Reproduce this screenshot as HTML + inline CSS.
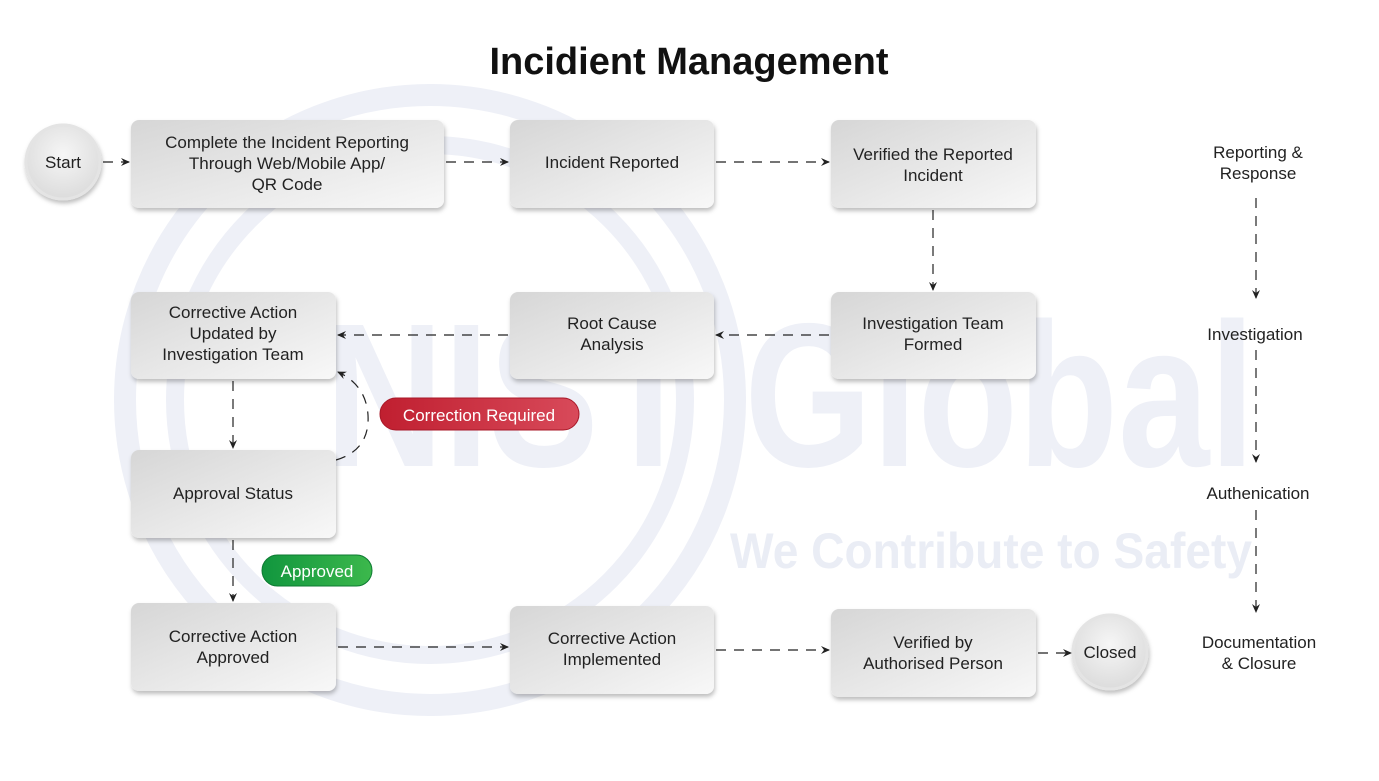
<!DOCTYPE html>
<html><head><meta charset="utf-8"><style>
body{margin:0;width:1379px;height:776px;background:#fff;overflow:hidden;font-family:"Liberation Sans",sans-serif}
</style></head><body>
<svg width="1379" height="776" viewBox="0 0 1379 776" xmlns="http://www.w3.org/2000/svg">
<defs>
<linearGradient id="g" x1="0" y1="0" x2="1" y2="1"><stop offset="0" stop-color="#d6d6d6"/><stop offset="1" stop-color="#f8f8f8"/></linearGradient>
<radialGradient id="cg" cx="0.5" cy="0.4" r="0.6"><stop offset="0" stop-color="#f6f6f6"/><stop offset="1" stop-color="#dcdcdc"/></radialGradient>
<linearGradient id="red" x1="0" x2="1"><stop offset="0" stop-color="#c01f30"/><stop offset="1" stop-color="#d84a5a"/></linearGradient>
<linearGradient id="grn" x1="0" x2="1"><stop offset="0" stop-color="#11963e"/><stop offset="1" stop-color="#3cb84c"/></linearGradient>
<filter id="sh" x="-10%" y="-10%" width="130%" height="140%"><feDropShadow dx="1" dy="3" stdDeviation="2" flood-color="#000" flood-opacity="0.25"/></filter>
<marker id="a" markerWidth="10" markerHeight="10" refX="8" refY="5" orient="auto" markerUnits="userSpaceOnUse"><path d="M0,1 L9,5 L0,9 L3,5z" fill="#222"/></marker>
</defs>
<g fill="none" stroke="#eef0f7">
<circle cx="430" cy="400" r="305" stroke-width="22"/>
<circle cx="430" cy="400" r="255" stroke-width="18"/>
</g>
<text x="325" y="466" font-size="205" font-weight="bold" fill="#eef0f7" textLength="930" lengthAdjust="spacingAndGlyphs">NIST Global</text>
<text x="730" y="568" font-size="50" font-weight="bold" fill="#eaedf5" textLength="522" lengthAdjust="spacingAndGlyphs">We Contribute to Safety</text>
<text x="689" y="74" font-size="38" font-weight="bold" text-anchor="middle" fill="#111">Incidient Management</text>
<g stroke="#222" stroke-width="1.2" stroke-dasharray="10 8" fill="none" marker-end="url(#a)">
<line x1="103" y1="162" x2="129" y2="162"/>
<line x1="446" y1="162" x2="508" y2="162"/>
<line x1="716" y1="162" x2="829" y2="162"/>
<line x1="933" y1="210" x2="933" y2="290"/>
<line x1="829" y1="335" x2="716" y2="335"/>
<line x1="508" y1="335" x2="338" y2="335"/>
<line x1="233" y1="381" x2="233" y2="448"/>
<line x1="233" y1="540" x2="233" y2="601"/>
<line x1="338" y1="647" x2="508" y2="647"/>
<line x1="716" y1="650" x2="829" y2="650"/>
<line x1="1038" y1="653" x2="1071" y2="653"/>
<path d="M336,460 Q370,450 368,415 Q366,385 338,372"/>
<line x1="1256" y1="198" x2="1256" y2="298"/>
<line x1="1256" y1="350" x2="1256" y2="462"/>
<line x1="1256" y1="510" x2="1256" y2="612"/>
</g>
<g filter="url(#sh)">
<circle cx="63" cy="162" r="37" fill="url(#cg)" stroke="#e4e4e4" stroke-width="3"/>
<circle cx="1110" cy="652" r="37" fill="url(#cg)" stroke="#e4e4e4" stroke-width="3"/>
<rect x="131" y="120" width="313" height="88" rx="8" fill="url(#g)"/>
<rect x="510" y="120" width="204" height="88" rx="8" fill="url(#g)"/>
<rect x="831" y="120" width="205" height="88" rx="8" fill="url(#g)"/>
<rect x="131" y="292" width="205" height="87" rx="8" fill="url(#g)"/>
<rect x="510" y="292" width="204" height="87" rx="8" fill="url(#g)"/>
<rect x="831" y="292" width="205" height="87" rx="8" fill="url(#g)"/>
<rect x="131" y="450" width="205" height="88" rx="8" fill="url(#g)"/>
<rect x="131" y="603" width="205" height="88" rx="8" fill="url(#g)"/>
<rect x="510" y="606" width="204" height="88" rx="8" fill="url(#g)"/>
<rect x="831" y="609" width="205" height="88" rx="8" fill="url(#g)"/>
</g>
<rect x="380" y="398" width="199" height="32" rx="16" fill="url(#red)" stroke="#a81828"/>
<rect x="262" y="555" width="110" height="31" rx="15.5" fill="url(#grn)" stroke="#0d7a32"/>
<g font-size="17" fill="#222" text-anchor="middle">
<text x="63" y="168">Start</text>
<text x="1110" y="658">Closed</text>
<text x="287" y="148">Complete the Incident Reporting</text>
<text x="287" y="169">Through Web/Mobile App/</text>
<text x="287" y="190">QR Code</text>
<text x="612" y="168">Incident Reported</text>
<text x="933" y="160">Verified the Reported</text>
<text x="933" y="181">Incident</text>
<text x="233" y="318">Corrective Action</text>
<text x="233" y="339">Updated by</text>
<text x="233" y="360">Investigation Team</text>
<text x="612" y="329">Root Cause</text>
<text x="612" y="350">Analysis</text>
<text x="933" y="329">Investigation Team</text>
<text x="933" y="350">Formed</text>
<text x="233" y="499">Approval Status</text>
<text x="233" y="642">Corrective Action</text>
<text x="233" y="663">Approved</text>
<text x="612" y="644">Corrective Action</text>
<text x="612" y="665">Implemented</text>
<text x="933" y="648">Verified by</text>
<text x="933" y="669">Authorised Person</text>
<text x="1258" y="158">Reporting &amp;</text>
<text x="1258" y="179">Response</text>
<text x="1255" y="340">Investigation</text>
<text x="1258" y="499">Authenication</text>
<text x="1259" y="648">Documentation</text>
<text x="1259" y="669">&amp; Closure</text>
<text x="479" y="421" fill="#fff">Correction Required</text>
<text x="317" y="577" fill="#fff">Approved</text>
</g>
</svg>
</body></html>
